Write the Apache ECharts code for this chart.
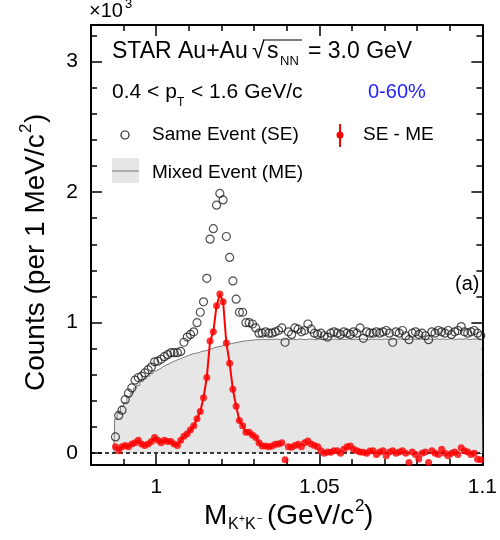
<!DOCTYPE html>
<html>
<head>
<meta charset="utf-8">
<script src="https://cdn.jsdelivr.net/npm/echarts@6/dist/echarts.min.js"></script>
<style>
html, body { margin: 0; padding: 0; background: #fff; }
#chart { width: 500px; height: 540px; }
</style>
</head>
<body>
<div id="chart"></div>
<script>
// K+K- invariant mass bins (GeV/c^2), 1 MeV wide
var massBins = [
  0.9875,0.9885,0.9895,0.9905,0.9915,0.9925,0.9935,0.9945,0.9955,0.9965,
  0.9975,0.9985,0.9995,1.0005,1.0015,1.0025,1.0035,1.0045,1.0055,1.0065,
  1.0075,1.0085,1.0095,1.0105,1.0115,1.0125,1.0135,1.0145,1.0155,1.0165,
  1.0175,1.0185,1.0195,1.0205,1.0215,1.0225,1.0235,1.0245,1.0255,1.0265,
  1.0275,1.0285,1.0295,1.0305,1.0315,1.0325,1.0335,1.0345,1.0355,1.0365,
  1.0375,1.0385,1.0395,1.0405,1.0415,1.0425,1.0435,1.0445,1.0455,1.0465,
  1.0475,1.0485,1.0495,1.0505,1.0515,1.0525,1.0535,1.0545,1.0555,1.0565,
  1.0575,1.0585,1.0595,1.0605,1.0615,1.0625,1.0635,1.0645,1.0655,1.0665,
  1.0675,1.0685,1.0695,1.0705,1.0715,1.0725,1.0735,1.0745,1.0755,1.0765,
  1.0775,1.0785,1.0795,1.0805,1.0815,1.0825,1.0835,1.0845,1.0855,1.0865,
  1.0875,1.0885,1.0895,1.0905,1.0915,1.0925,1.0935,1.0945,1.0955,1.0965,
  1.0975,1.0985,1.0995
];
// counts in units of 10^3
var seCounts = [
  0.125,0.29,0.33,0.41,0.46,0.50,0.56,0.58,0.59,0.615,
  0.64,0.66,0.70,0.705,0.72,0.74,0.755,0.77,0.77,0.77,
  0.78,0.85,0.89,0.91,0.93,1.00,1.08,1.16,1.34,1.64,
  1.72,1.90,1.99,1.94,1.66,1.50,1.32,1.18,1.08,1.08,
  1.00,1.00,0.99,0.96,0.92,0.92,0.93,0.92,0.92,0.93,
  0.94,0.96,0.85,0.93,0.91,0.96,0.95,0.93,0.94,0.99,
  0.95,0.92,0.91,0.92,0.90,0.89,0.92,0.93,0.92,0.91,
  0.93,0.92,0.91,0.93,0.92,0.96,0.88,0.93,0.92,0.92,
  0.93,0.92,0.93,0.94,0.92,0.85,0.93,0.92,0.94,0.90,
  0.87,0.92,0.93,0.91,0.92,0.90,0.87,0.93,0.92,0.94,
  0.93,0.92,0.94,0.91,0.93,0.94,0.97,0.93,0.92,0.93,
  0.94,0.92,0.90
];
var meCounts = [
  0.26,0.31,0.36,0.39,0.43,0.46,0.50,0.52,0.55,0.57,
  0.59,0.61,0.63,0.645,0.66,0.675,0.685,0.70,0.71,0.72,
  0.73,0.74,0.75,0.76,0.765,0.77,0.78,0.785,0.79,0.80,
  0.81,0.815,0.82,0.83,0.835,0.84,0.845,0.85,0.855,0.86,
  0.862,0.865,0.868,0.87,0.87,0.872,0.87,0.873,0.871,0.874,
  0.872,0.868,0.875,0.870,0.874,0.869,0.876,0.872,0.870,0.875,
  0.873,0.868,0.874,0.871,0.876,0.870,0.873,0.875,0.869,0.874,
  0.872,0.876,0.870,0.874,0.871,0.877,0.873,0.869,0.875,0.872,
  0.874,0.870,0.876,0.873,0.871,0.875,0.872,0.877,0.870,0.874,
  0.873,0.876,0.871,0.874,0.878,0.872,0.875,0.870,0.876,0.873,
  0.875,0.871,0.877,0.874,0.872,0.876,0.873,0.878,0.871,0.875,
  0.874,0.877,0.872
];
var diffCounts = [
  0.05,0.02,0.05,0.06,0.05,0.07,0.08,0.10,0.07,0.06,
  0.07,0.09,0.12,0.10,0.08,0.10,0.09,0.09,0.07,0.06,
  0.10,0.13,0.15,0.18,0.21,0.265,0.32,0.425,0.58,0.86,
  0.93,1.13,1.22,1.16,0.845,0.69,0.49,0.36,0.25,0.21,
  0.16,0.16,0.14,0.12,0.08,0.056,0.056,0.05,0.056,0.069,
  0.07,0.08,-0.05,0.05,0.046,0.06,0.069,0.05,0.08,0.094,
  0.07,0.06,0.05,0.02,0.00,0.01,0.008,0.02,0.02,0.00,
  0.03,0.05,0.056,0.03,0.02,0.01,0.008,0.00,0.018,0.02,
  -0.01,0.01,0.02,-0.02,0.01,0.02,0.00,0.01,0.02,0.00,
  -0.07,0.01,-0.01,-0.045,0.00,0.01,-0.07,0.02,0.00,-0.01,
  0.03,0.00,-0.02,0.00,0.01,-0.01,0.043,0.02,0.01,-0.01,
  0.00,-0.046,-0.05
];
var xMajorTicks = [1, 1.05, 1.1];
var xMinorTicks = [0.99, 1.01, 1.02, 1.03, 1.04, 1.06, 1.07, 1.08, 1.09];
var yMajorTicks = [0, 1, 2, 3];
var yMinorTicks = [0.2, 0.4, 0.6, 0.8, 1.2, 1.4, 1.6, 1.8, 2.2, 2.4, 2.6, 2.8, 3.2];
var lineBins = 48; // the red curve runs over the first bins only

var FONT = 'Liberation Sans, Arial, Helvetica, sans-serif';

function pairs(ys) {
  return massBins.map(function (m, i) { return [m, ys[i]]; });
}
var meLine = [[0.987, 0]].concat(pairs(meCounts), [[1.1, meCounts[meCounts.length - 1]]]);

function xAx(pos, ticks, len, labels) {
  return {
    type: 'value', min: 0.98, max: 1.1, position: pos,
    axisLine: { show: labels !== undefined, onZero: false, lineStyle: { color: '#000', width: 2 } },
    axisTick: { show: true, inside: true, length: len, customValues: ticks, lineStyle: { color: '#000', width: 1.5 } },
    axisLabel: labels ? {
      show: true, customValues: ticks, margin: 12, color: '#000', fontSize: 21, fontFamily: FONT,
      formatter: function (v) { return String(+v.toFixed(2)); }
    } : { show: false },
    splitLine: { show: false }
  };
}
function yAx(pos, ticks, len, labels) {
  return {
    type: 'value', min: -0.09, max: 3.28, position: pos,
    axisLine: { show: labels !== undefined, onZero: false, lineStyle: { color: '#000', width: 2 } },
    axisTick: { show: true, inside: true, length: len, customValues: ticks, lineStyle: { color: '#000', width: 1.5 } },
    axisLabel: labels ? {
      show: true, customValues: ticks, margin: 13, color: '#000', fontSize: 21, fontFamily: FONT,
      formatter: function (v) { return String(Math.round(v)); }
    } : { show: false },
    splitLine: { show: false }
  };
}

function txt(x, y, s, size, extra) {
  var st = { text: s, x: 0, y: 0, fontSize: size, fontFamily: FONT, fill: '#000', align: 'left', verticalAlign: 'middle' };
  for (var k in (extra || {})) st[k] = extra[k];
  return { type: 'text', x: x, y: y, style: st, z: 100 };
}

var graphics = [
  txt(89, 11, '\u00d710', 20),
  txt(125, 4, '3', 13),
  txt(112, 52, 'STAR Au+Au', 23),
  txt(252, 52, '\u221a', 23),
  txt(267, 52, 's', 23),
  txt(280, 61, 'NN', 13),
  { type: 'line', shape: { x1: 263, y1: 40, x2: 302, y2: 40 }, style: { stroke: '#000', lineWidth: 1.2 }, z: 100 },
  txt(308, 52, '= 3.0 GeV', 23),
  txt(112, 92, '0.4 < p', 21),
  txt(177, 103, 'T', 12),
  txt(191, 92, '< 1.6 GeV/c', 21),
  txt(368, 92, '0-60%', 20, { fill: '#1f1fff' }),
  { type: 'circle', shape: { cx: 125, cy: 135, r: 4 }, style: { fill: 'none', stroke: '#222', lineWidth: 1.2 }, z: 100 },
  txt(152, 135, 'Same Event (SE)', 19),
  { type: 'line', shape: { x1: 340, y1: 124, x2: 340, y2: 147 }, style: { stroke: '#ff0000', lineWidth: 2 }, z: 100 },
  { type: 'circle', shape: { cx: 340, cy: 135, r: 3.5 }, style: { fill: '#ff0000' }, z: 100 },
  txt(363, 135, 'SE - ME', 19),
  { type: 'rect', shape: { x: 112, y: 158, width: 27, height: 25 }, style: { fill: '#e6e6e6' }, z: 100 },
  { type: 'line', shape: { x1: 112, y1: 171, x2: 139, y2: 171 }, style: { stroke: '#777', lineWidth: 1 }, z: 100 },
  txt(152, 173, 'Mixed Event (ME)', 19),
  txt(455, 284, '(a)', 20),
  // x axis title
  txt(204, 516, 'M', 28),
  txt(228, 525, 'K', 16),
  txt(239, 519, '+', 10),
  txt(245, 525, 'K', 16),
  txt(257, 519, '\u2212', 10),
  txt(267, 516, '(GeV/c', 28),
  txt(355, 506, '2', 17),
  txt(364, 516, ')', 28),
  // y axis title, rotated
  {
    type: 'group', x: 36, y: 248, rotation: Math.PI / 2, z: 100,
    children: [
      txt(-143, 0, 'Counts (per 1 MeV/c', 28),
      txt(115, -10, '2', 17),
      txt(125, 0, ')', 28)
    ]
  }
];

var chart = echarts.init(document.getElementById('chart'));
chart.setOption({
  animation: false,
  backgroundColor: '#fff',
  grid: { left: 91, right: 12, top: 25, bottom: 75 },
  xAxis: [
    xAx('bottom', xMajorTicks, 11, true),
    xAx('bottom', xMinorTicks, 6),
    xAx('top', xMajorTicks, 11, false),
    xAx('top', xMinorTicks, 6)
  ],
  yAxis: [
    yAx('left', yMajorTicks, 11, true),
    yAx('left', yMinorTicks, 6),
    yAx('right', yMajorTicks, 11, false),
    yAx('right', yMinorTicks, 6)
  ],
  graphic: graphics,
  series: [
    {
      name: 'Mixed Event (ME)', type: 'line', step: 'middle', data: meLine,
      symbol: 'none', z: 1,
      lineStyle: { color: '#7a7a7a', width: 1 },
      areaStyle: { color: '#e6e6e6', opacity: 1 },
      markLine: {
        silent: true, symbol: 'none', label: { show: false },
        lineStyle: { color: '#000', type: [4, 3], width: 1.5 },
        data: [{ yAxis: 0 }]
      }
    },
    {
      name: 'Same Event (SE)', type: 'scatter', data: pairs(seCounts), z: 3,
      symbol: 'circle', symbolSize: 8,
      itemStyle: { color: 'rgba(255,255,255,0)', borderColor: '#222', borderWidth: 1.2 }
    },
    {
      name: 'SE - ME curve', type: 'line', data: pairs(diffCounts).slice(0, lineBins), z: 4,
      symbol: 'none', lineStyle: { color: '#ff0000', width: 2 }
    },
    {
      name: 'SE - ME', type: 'scatter', data: pairs(diffCounts), z: 5,
      symbol: 'circle', symbolSize: 7, itemStyle: { color: '#ff0000' }
    }
  ]
});
</script>
</body>
</html>
